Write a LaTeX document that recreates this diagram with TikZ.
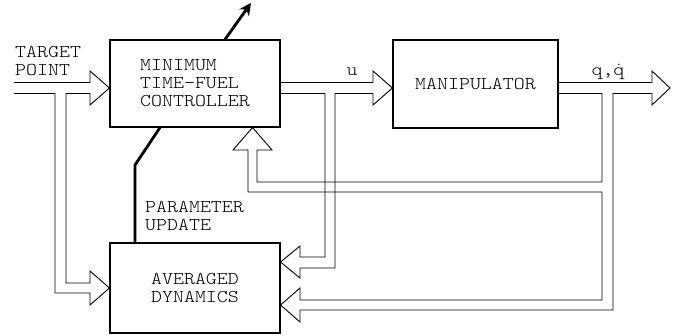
\documentclass[tikz,border=0pt]{standalone}
\usepackage{fontspec}
\setmonofont{Latin Modern Mono Light}[FakeStretch=1.16]
\usetikzlibrary{arrows.meta,calc}
\begin{document}
\begin{tikzpicture}[x=1pt,y=-1pt,
  txt/.style={font=\ttfamily\fontsize{18}{18}\selectfont, inner sep=0pt, align=left},
  blk/.style={txt, draw, line width=1.1pt},
  pipe/.style={line width=0.9pt, line join=miter},
  heavy/.style={line width=2.8pt}]
\useasboundingbox[fill=white] (0,0) rectangle (679,336);
% blocks
\node[blk, minimum width=170pt, minimum height=87pt] (ctrl) at (195,83.5) {MINIMUM\\TIME-FUEL\\CONTROLLER};
\node[blk, minimum width=165pt, minimum height=88pt] (manip) at (475.5,84) {MANIPULATOR};
\node[blk, minimum width=170pt, minimum height=90pt] (avg) at (195,288) {AVERAGED\\DYNAMICS};
% labels
\node[txt, anchor=west] (tp) at (15,61) {TARGET\\POINT};
\node[txt, anchor=west] (pu) at (145,216) {PARAMETER\\UPDATE};
\node[txt] (ulab) at (352,72) {u};
\node[txt] (qlab) at (608,72) {q,$\dot{\mbox{q}}$};
% target point double arrow, branching to averaged dynamics
\draw[pipe] (14,82.5) -- (90,82.5) -- (90,71) -- (ctrl.west |- 0,88) -- (90,105) -- (90,93.5)
  -- (66,93.5) -- (66,283) -- (90,283) -- (90,271) -- (avg.west |- 0,288) -- (90,305) -- (90,293)
  -- (55,293) -- (55,93.5) -- (14,93.5);
% u double arrow, branching to averaged dynamics
\draw[pipe] (ctrl.east |- 0,82.5) -- (373,82.5) -- (373,71) -- (manip.west |- 0,88) -- (373,105) -- (373,93.5)
  -- (335,93.5) -- (335,268) -- (300,268) -- (300,278) -- (avg.east |- 0,262) -- (300,246) -- (300,257)
  -- (325,257) -- (325,93.5) -- (ctrl.east |- 0,93.5);
% output double arrow, feedback to controller and averaged dynamics
\draw[pipe] (manip.east |- 0,82.5) -- (652,82.5) -- (652,71) -- (670,88) -- (652,105) -- (652,93.5)
  -- (613,93.5) -- (613,310) -- (300,310) -- (300,322) -- (avg.east |- 0,305) -- (300,288) -- (300,300)
  -- (602,300) -- (602,192) -- (248,192) -- (248,150) -- (233,150) -- (ctrl.south -| 252.5,0)
  -- (272,150) -- (257,150) -- (257,182) -- (602,182) -- (602,93.5) -- (manip.east |- 0,93.5);
% parameter update
\draw[heavy] (ctrl.south -| 160,0) -- (135,165) -- (avg.north -| 135,0);
\coordinate (adj) at (251,3);
\draw[heavy, -{Stealth[length=12pt,width=12pt]}] (ctrl.north -| 225,0) -- (adj);
\end{tikzpicture}
\end{document}
